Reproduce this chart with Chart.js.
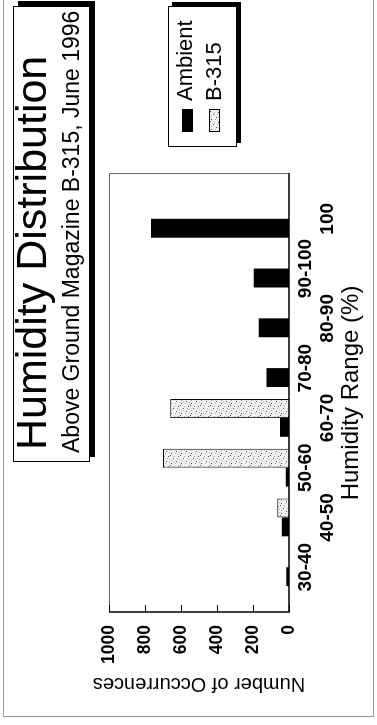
<!DOCTYPE html>
<html>
<head>
<meta charset="utf-8">
<title>Humidity Distribution</title>
<script src="https://cdn.jsdelivr.net/npm/chart.js@4.4.1/dist/chart.umd.min.js"></script>
<style>
  html, body { margin: 0; padding: 0; background: #fff; }
  body { width: 377px; height: 725px; overflow: hidden; position: relative; font-family: "Liberation Sans", Arial, sans-serif; }
  /* the figure is laid out landscape and turned a quarter left, like the scanned page */
  #page { position: absolute; left: 0; top: 0; width: 725px; height: 377px; transform-origin: 0 0; transform: translateY(725px) rotate(-90deg); background: #fff; overflow: hidden; }
  #page canvas { position: absolute; left: 0; top: 0; }
  .frame { position: absolute; left: 8px; top: 3px; width: 730px; height: 369px; border: 1px solid #999; }
  .box { position: absolute; border: 1px solid #000; background: #fff; box-sizing: border-box; }
  .txt { position: absolute; white-space: nowrap; line-height: 1; color: #000; }
  .swatch { position: absolute; box-sizing: border-box; }
</style>
</head>
<body>
<div id="page">
  <div class="frame"></div>
  <canvas id="humidityChart" width="725" height="377"></canvas>
  <div class="box" style="left:263px;top:13px;width:456px;height:77px;box-shadow:5px 5px 0 #000;"></div>
  <div class="txt" style="left:275px;top:10px;font-size:43px;">Humidity Distribution</div>
  <div class="txt" style="left:272px;top:60px;font-size:23px;">Above Ground Magazine B-315, June 1996</div>
  <div class="box" style="left:578px;top:168px;width:141px;height:69px;box-shadow:4px 4px 0 #000;"></div>
  <div id="legend"></div>
</div>
<script>
const categories = ["30-40", "40-50", "50-60", "60-70", "70-80", "80-90", "90-100", "100"];
const ambient = [15, 40, 18, 50, 125, 168, 196, 767];
const b315 = [0, 65, 700, 660, 0, 0, 0, 0];
const seriesNames = ["Ambient", "B-315"];
const yTicks = [0, 200, 400, 600, 800, 1000];

// stippled light fill used for the B-315 bars
const makeSpeckle = () => {
  const c = document.createElement("canvas");
  c.width = 10;
  c.height = 10;
  const g = c.getContext("2d");
  g.fillStyle = "#f1f1f1";
  g.fillRect(0, 0, 10, 10);
  g.fillStyle = "#555";
  [[1, 1], [6, 3], [3, 6], [8, 8], [9, 0]].forEach(([x, y]) => g.fillRect(x, y, 1, 1));
  g.fillStyle = "#aaa";
  [[4, 1], [8, 4], [1, 5], [6, 7], [2, 9], [5, 9]].forEach(([x, y]) => g.fillRect(x, y, 1, 1));
  return c;
};
const speckle = makeSpeckle();

const toPoints = (values) => values.map((v, i) => ({ x: i, y: v }));

const plotFrame = {
  id: "plotFrame",
  afterDraw(chart) {
    const { ctx, chartArea: a, scales } = chart;
    ctx.save();
    ctx.strokeStyle = "#666";
    ctx.lineWidth = 1;
    ctx.beginPath();
    ctx.moveTo(a.left, a.top + 0.5);
    ctx.lineTo(a.right + 0.5, a.top + 0.5);
    ctx.lineTo(a.right + 0.5, a.bottom);
    ctx.stroke();
    ctx.strokeStyle = "#000";
    ctx.lineWidth = 1.5;
    ctx.beginPath();
    ctx.moveTo(a.left, a.top);
    ctx.lineTo(a.left, a.bottom);
    ctx.lineTo(a.right + 1, a.bottom);
    ctx.stroke();
    // short inward ticks on the value axis
    ctx.lineWidth = 1;
    scales.y.ticks.forEach((t) => {
      const py = Math.round(scales.y.getPixelForValue(t.value)) + 0.5;
      ctx.beginPath();
      ctx.moveTo(a.left, py);
      ctx.lineTo(a.left + 7, py);
      ctx.stroke();
    });
    ctx.restore();
  },
};

const ctx = document.getElementById("humidityChart").getContext("2d");
new Chart(ctx, {
  type: "bar",
  data: {
    datasets: [
      {
        label: seriesNames[0],
        data: toPoints(ambient),
        backgroundColor: "#000",
        borderWidth: 0,
        categoryPercentage: 0.76,
        barPercentage: 1,
      },
      {
        label: seriesNames[1],
        data: toPoints(b315),
        backgroundColor: ctx.createPattern(speckle, "repeat"),
        borderColor: "#000",
        borderWidth: 1,
        categoryPercentage: 0.76,
        barPercentage: 1,
      },
    ],
  },
  options: {
    responsive: false,
    animation: false,
    layout: { padding: { left: 0, top: 109, right: 174, bottom: 0 } },
    plugins: {
      legend: { display: false },
      tooltip: { enabled: false },
      title: { display: false },
    },
    scales: {
      x: {
        type: "linear",
        min: -0.9,
        max: categories.length - 0.1,
        offset: false,
        afterFit: (s) => { s.height = 88; },
        grid: { display: false, drawTicks: false },
        border: { display: false },
        ticks: {
          stepSize: 1,
          includeBounds: false,
          autoSkip: false,
          maxRotation: 0,
          padding: 5,
          color: "#000",
          font: { size: 19, weight: "bold" },
          callback: (v) => {
            const label = categories[v];
            if (label === undefined) return "";
            return v % 2 ? ["", label] : label;
          },
        },
        title: {
          display: true,
          text: "Humidity Range (%)",
          color: "#000",
          font: { size: 24 },
          padding: { top: 0, bottom: 11 },
        },
      },
      y: {
        min: yTicks[0],
        max: yTicks[yTicks.length - 1],
        afterFit: (s) => { s.width = 113; },
        grid: { display: false, drawTicks: false },
        border: { display: false },
        ticks: {
          stepSize: yTicks[1] - yTicks[0],
          padding: 13,
          color: "#000",
          font: { size: 17.5, weight: "bold" },
          callback: (v) => String(v),
        },
        title: {
          display: true,
          text: "Number of Occurrences",
          color: "#000",
          font: { size: 20 },
          padding: { top: 29, bottom: 0 },
        },
      },
    },
  },
  plugins: [plotFrame],
});

// legend drawn from the series names
const legendEl = document.getElementById("legend");
const swatchFills = ["#000", "url(" + speckle.toDataURL() + ") repeat"];
seriesNames.forEach((name, i) => {
  const sw = document.createElement("div");
  sw.className = "swatch";
  sw.style.cssText = `left:593px;top:${182 + i * 27}px;width:23px;height:11px;background:${swatchFills[i]};border:1px solid #000;`;
  legendEl.appendChild(sw);
  const tx = document.createElement("div");
  tx.className = "txt";
  tx.style.cssText = `left:624px;top:${174 + i * 29}px;font-size:22px;`;
  tx.textContent = name;
  legendEl.appendChild(tx);
});
</script>
</body>
</html>
